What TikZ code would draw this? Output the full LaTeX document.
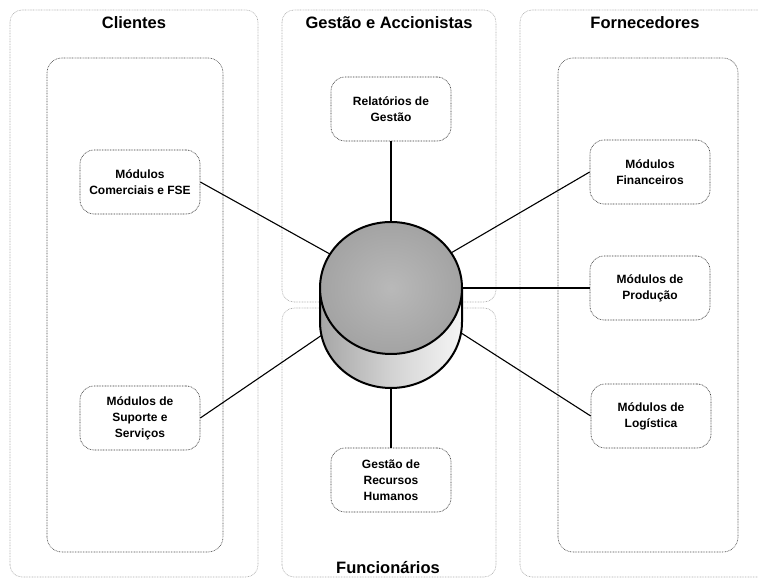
\documentclass[tikz,border=0pt]{standalone}
\usepackage{fontspec}
\setmainfont{Liberation Sans}
\begin{document}
\begin{tikzpicture}[x=1pt,y=1pt,
  panel/.style={draw=gray!65, line width=0.6pt, dash pattern=on 0.8pt off 0.8pt, rounded corners=12pt},
  innerbox/.style={draw=black!70, line width=0.6pt, dash pattern=on 0.8pt off 0.8pt, rounded corners=15pt},
  module/.style={draw=black!80, line width=0.6pt, dash pattern=on 0.8pt off 0.8pt, rounded corners=14pt,
    minimum width=120pt, minimum height=64pt, align=center, inner sep=2pt,
    font=\fontsize{12}{16}\selectfont\bfseries},
  paneltitle/.style={font=\fontsize{16.5}{19}\selectfont\bfseries},
  link/.style={draw=black, line width=1.1pt},
  dbedge/.style={draw=black, line width=2pt}
]
\useasboundingbox (0,0) rectangle (758,580);

% outer stakeholder panels
\draw[panel] (10,3) rectangle (258,570);
\draw[panel] (282,278) rectangle (496,570);
\draw[panel] (282,3) rectangle (496,272);
\draw[panel] (520,3) rectangle (775,570);

% inner groups of modules
\draw[innerbox] (47,28) rectangle (223,522);
\draw[innerbox] (558,28) rectangle (738,522);

% panel titles
\node[paneltitle] (tcli) at (134,557) {Clientes};
\node[paneltitle] (tges) at (389,557) {Gestão e Accionistas};
\node[paneltitle] (tfor) at (645,557) {Fornecedores};
\node[paneltitle] (tfun) at (388,12) {Funcionários};

% modules
\node[module] (com) at (140,398) {Módulos\\Comerciais e FSE};
\node[module] (sup) at (140,162) {Módulos de\\Suporte e\\Serviços};
\node[module] (rel) at (391,471) {Relatórios de\\Gestão};
\node[module] (rh)  at (391,100) {Gestão de\\Recursos\\Humanos};
\node[module] (fin) at (650,408) {Módulos\\Financeiros};
\node[module] (prod) at (650,292) {Módulos de\\Produção};
\node[module] (log) at (651,164) {Módulos de\\Logística};

% centre of the database top
\coordinate (db) at (391,292);

% connectors (the database drawn afterwards hides their inner ends)
\draw[link] (com.east) -- (db);
\draw[link] (sup.east) -- (db);
\draw[link] (fin.west) -- (db);
\draw[link] (prod.west) -- (db);
\draw[link] (log.west) -- (db);
\draw[link] (rel.south) -- (rel.south |- db);
\draw[link] (rh.north) -- (rh.north |- db);

% central database cylinder
\shade[left color=gray!70, right color=gray!8, middle color=gray!35]
  (320,292) -- (320,258) arc[start angle=180, end angle=360, x radius=71, y radius=66]
  -- (462,292) -- cycle;
\draw[dbedge] (320,292) -- (320,258) arc[start angle=180, end angle=360, x radius=71, y radius=66]
  -- (462,292);
\shade[inner color=gray!55, outer color=gray!72, draw=black, line width=2pt]
  (391,292) ellipse[x radius=71, y radius=66];
\end{tikzpicture}
\end{document}
